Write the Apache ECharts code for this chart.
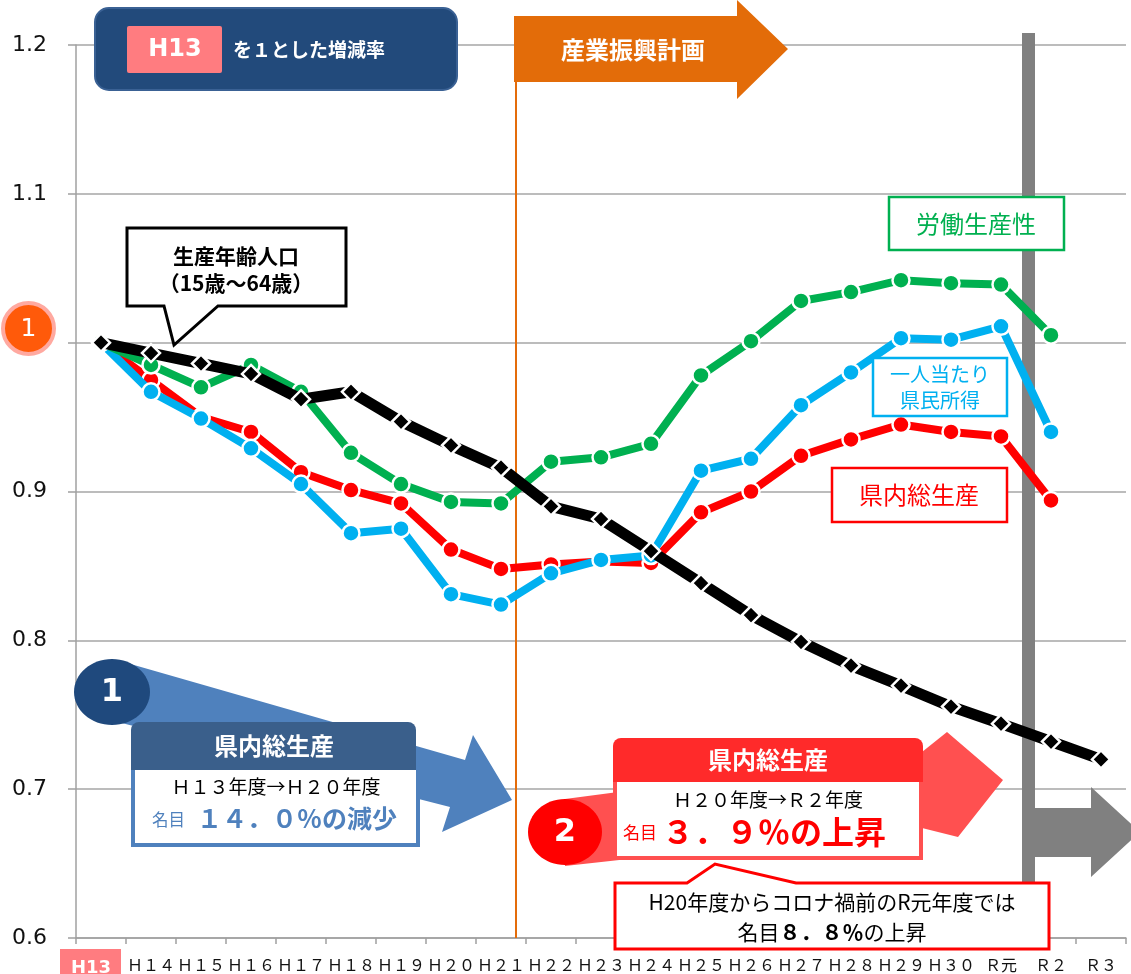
<!DOCTYPE html>
<html><head><meta charset="utf-8">
<script src="https://cdn.jsdelivr.net/npm/echarts@6/dist/echarts.min.js"></script>
<style>html,body{margin:0;padding:0;background:#fff}#c{width:1131px;height:974px}</style>
</head><body><div id="c"></div>
<script>
// ---- data ----
const categories = ['H13','H14','H15','H16','H17','H18','H19','H20','H21','H22','H23','H24','H25','H26','H27','H28','H29','H30','R元','R2','R3'];
const xTickLabels = ['Ｈ１３','Ｈ１４','Ｈ１５','Ｈ１６','Ｈ１７','Ｈ１８','Ｈ１９','Ｈ２０','Ｈ２１','Ｈ２２','Ｈ２３','Ｈ２４','Ｈ２５','Ｈ２６','Ｈ２７','Ｈ２８','Ｈ２９','Ｈ３０','Ｒ元','Ｒ２','Ｒ３'];
const workingAgePopulation = [1.000,0.993,0.986,0.979,0.962,0.967,0.947,0.931,0.916,0.890,0.8815,0.860,0.8385,0.817,0.799,0.783,0.7695,0.7555,0.744,0.732,0.720];
const laborProductivity = [1.000,0.985,0.970,0.985,0.967,0.926,0.905,0.893,0.892,0.920,0.923,0.932,0.978,1.001,1.028,1.034,1.042,1.040,1.039,1.005,null];
const grossPrefecturalProduct = [1.000,0.975,0.950,0.940,0.913,0.901,0.892,0.861,0.848,0.851,0.853,0.852,0.886,0.900,0.924,0.935,0.945,0.940,0.937,0.894,null];
const perCapitaIncome = [1.000,0.967,0.949,0.929,0.905,0.872,0.875,0.831,0.824,0.845,0.854,0.857,0.914,0.922,0.958,0.980,1.003,1.002,1.011,0.940,null];
const yMin = 0.6, yMax = 1.2, yStep = 0.1;

const JP = 'Noto Sans CJK JP';
const chart = echarts.init(document.getElementById('c'));

function lineSeries(name, data, color, width, symbol, size, z) {
  return {
    name, type: 'line', data, z,
    showAllSymbol: true, symbol, symbolSize: size,
    lineStyle: { color, width },
    itemStyle: { color, borderColor: '#fff', borderWidth: 2.5 },
    emphasis: { disabled: true }, animation: false
  };
}
function txt(x, y, text, style, z) {
  return { type: 'text', x, y, z: z || 120, silent: true,
    style: Object.assign({ text, fontFamily: JP, align: 'center', verticalAlign: 'middle' }, style) };
}

const graphics = [
  // vertical markers
  { type: 'line', z: 1, shape: { x1: 516, y1: 82, x2: 516, y2: 938 }, style: { stroke: '#E46C0A', lineWidth: 2 } },
  { type: 'rect', z: 1, shape: { x: 1022, y: 33, width: 13, height: 905 }, style: { fill: '#808080' } },
  // orange arrow
  { type: 'polygon', z: 100, shape: { points: [[514,16],[737,16],[737,0],[788,49],[737,99],[737,82],[514,82]] }, style: { fill: '#E36C09' } },
  txt(633, 50, '産業振興計画', { fill: '#fff', fontSize: 24, fontWeight: 'bold' }),
  // top-left title box
  { type: 'rect', z: 100, shape: { x: 95, y: 8, width: 362, height: 82, r: 14 }, style: { fill: '#224A7B', stroke: '#3A6194', lineWidth: 2 } },
  { type: 'rect', z: 110, shape: { x: 127, y: 26, width: 95, height: 47, r: 2 }, style: { fill: '#FF7C80' } },
  txt(175, 50, 'H13', { fill: '#fff', fontSize: 24, fontWeight: 'bold', fontFamily: 'DejaVu Sans' }),
  txt(233, 50, 'を１とした増減率', { fill: '#fff', fontSize: 19, fontWeight: 'bold', align: 'left' }),
  // y=1 circle label
  { type: 'circle', z: 100, shape: { cx: 28.5, cy: 328.5, r: 25.5 }, style: { fill: '#FF5A0A', stroke: '#FFA9A0', lineWidth: 4 } },
  txt(28.5, 329, '1', { fill: '#fff', fontSize: 25, fontFamily: 'DejaVu Sans' }),
  // H13 x label box
  { type: 'rect', z: 100, shape: { x: 60, y: 949, width: 61, height: 30 }, style: { fill: '#FF7C80' } },
  txt(91, 968, 'H13', { fill: '#fff', fontSize: 18, fontWeight: 'bold', fontFamily: 'DejaVu Sans' }),
  // callout 生産年齢人口
  { type: 'polygon', z: 100, shape: { points: [[127,228],[346,228],[346,306],[218,306],[174,345],[164,306],[127,306]] }, style: { fill: '#fff', stroke: '#000', lineWidth: 3 } },
  txt(236, 256, '生産年齢人口', { fill: '#000', fontSize: 21, fontWeight: 'bold' }),
  txt(236, 283, '（15歳～64歳）', { fill: '#000', fontSize: 21, fontWeight: 'bold' }),
  // series labels
  { type: 'rect', z: 100, shape: { x: 889, y: 197, width: 175, height: 53 }, style: { fill: '#fff', stroke: '#00B050', lineWidth: 2.5 } },
  txt(976, 224, '労働生産性', { fill: '#00B050', fontSize: 24 }),
  { type: 'rect', z: 100, shape: { x: 873, y: 358, width: 134, height: 58 }, style: { fill: '#fff', stroke: '#00B0F0', lineWidth: 2.5 } },
  txt(940, 374, '一人当たり', { fill: '#00B0F0', fontSize: 20 }),
  txt(940, 400, '県民所得', { fill: '#00B0F0', fontSize: 20 }),
  { type: 'rect', z: 100, shape: { x: 832, y: 468, width: 175, height: 54 }, style: { fill: '#fff', stroke: '#FF0000', lineWidth: 2.5 } },
  txt(919, 495, '県内総生産', { fill: '#FF0000', fontSize: 24 }),
  // annotation 1 (blue)
  { type: 'polygon', z: 100, shape: { points: [[127,663],[465,760],[473,735],[512,800],[442,832],[450,807],[110,720]] }, style: { fill: '#4F81BD' } },
  { type: 'ellipse', z: 101, shape: { cx: 112, cy: 692, rx: 38, ry: 33 }, style: { fill: '#1F497D' } },
  txt(112, 693, '1', { fill: '#fff', fontSize: 32, fontWeight: 'bold', fontFamily: 'DejaVu Sans' }),
  { type: 'rect', z: 105, shape: { x: 133, y: 768, width: 285, height: 77 }, style: { fill: '#fff', stroke: '#4F81BD', lineWidth: 4 } },
  { type: 'rect', z: 106, shape: { x: 131, y: 722, width: 285, height: 48, r: [8,8,0,0] }, style: { fill: '#3A5F8B' } },
  txt(274, 746, '県内総生産', { fill: '#fff', fontSize: 24, fontWeight: 'bold' }),
  txt(276, 787, 'Ｈ１３年度→Ｈ２０年度', { fill: '#000', fontSize: 19 }),
  txt(152, 820, '名目', { fill: '#4F81BD', fontSize: 16.5, align: 'left' }),
  txt(197, 818, '１４．０％の減少', { fill: '#4F81BD', fontSize: 25, fontWeight: 'bold', align: 'left' }),
  // annotation 2 (red)
  { type: 'polygon', z: 100, shape: { points: [[565,799],[922,752],[947,732],[1003,780],[958,837],[918,827],[565,866]] }, style: { fill: '#FF5050' } },
  { type: 'ellipse', z: 101, shape: { cx: 565, cy: 832, rx: 37, ry: 33 }, style: { fill: '#FF0000' } },
  txt(565, 833, '2', { fill: '#fff', fontSize: 32, fontWeight: 'bold', fontFamily: 'DejaVu Sans' }),
  { type: 'rect', z: 105, shape: { x: 615, y: 780, width: 306, height: 78 }, style: { fill: '#fff', stroke: '#FF5050', lineWidth: 4 } },
  { type: 'rect', z: 106, shape: { x: 613, y: 738, width: 310, height: 44, r: [8,8,0,0] }, style: { fill: '#FF2A2A' } },
  txt(768, 760, '県内総生産', { fill: '#fff', fontSize: 24, fontWeight: 'bold' }),
  txt(768, 800, 'Ｈ２０年度→Ｒ２年度', { fill: '#000', fontSize: 19 }),
  txt(623, 833, '名目', { fill: '#FF0000', fontSize: 17, align: 'left' }),
  txt(662, 832, '３．９％の上昇', { fill: '#FF0000', fontSize: 32, fontWeight: 'bold', align: 'left' }),
  // callout 3
  { type: 'polygon', z: 100, shape: { points: [[615,883],[687,883],[715,864],[796,883],[1049,883],[1049,949],[615,949]] }, style: { fill: '#fff', stroke: '#FF0000', lineWidth: 3 } },
  txt(832, 902, 'H20年度からコロナ禍前のR元年度では', { fill: '#000', fontSize: 21 }),
  { type: 'text', x: 832, y: 932, z: 120, silent: true, style: { text: '{a|名目}{b|８．８％}{a|の上昇}', align: 'center', verticalAlign: 'middle',
      rich: { a: { fontFamily: JP, fontSize: 21, fill: '#000' }, b: { fontFamily: JP, fontSize: 21, fontWeight: 'bold', fill: '#000' } } } },
  // gray arrow
  { type: 'polygon', z: 100, shape: { points: [[1035,808],[1091,808],[1091,787],[1140,832],[1091,877],[1091,857],[1035,857]] }, style: { fill: '#808080' } }
];

chart.setOption({
  animation: false,
  backgroundColor: '#fff',
  grid: { left: 76, top: 45, width: 1050, height: 893, containLabel: false },
  xAxis: {
    type: 'category', data: categories, boundaryGap: true,
    axisLine: { lineStyle: { color: '#A0A0A0', width: 1.5 } },
    axisTick: { show: true, length: 6, interval: 0, lineStyle: { color: '#A0A0A0', width: 1.5 } },
    axisLabel: { interval: 0, margin: 19, fontSize: 16, color: '#111', fontFamily: JP,
      formatter: (v, i) => i === 0 ? '' : xTickLabels[i] },
    splitLine: { show: false }
  },
  yAxis: {
    type: 'value', min: yMin, max: yMax, interval: yStep,
    axisLine: { show: true, lineStyle: { color: '#A0A0A0', width: 1.5 } },
    axisTick: { show: true, length: 8, lineStyle: { color: '#A0A0A0', width: 1.5 } },
    axisLabel: { margin: 29, fontSize: 22, color: '#111', fontFamily: 'DejaVu Sans',
      formatter: v => Math.abs(v - 1) < 1e-9 ? '' : v.toFixed(1) },
    splitLine: { show: true, lineStyle: { color: '#A6A6A6', width: 1.5 } }
  },
  series: [
    lineSeries('県内総生産', grossPrefecturalProduct, '#FF0000', 8, 'circle', 17, 3),
    lineSeries('一人当たり県民所得', perCapitaIncome, '#00B0F0', 8, 'circle', 17, 4),
    lineSeries('労働生産性', laborProductivity, '#00B050', 8, 'circle', 17, 5),
    lineSeries('生産年齢人口', workingAgePopulation, '#000000', 11, 'diamond', 18, 6)
  ],
  graphic: { elements: graphics }
});
</script>
</body></html>
